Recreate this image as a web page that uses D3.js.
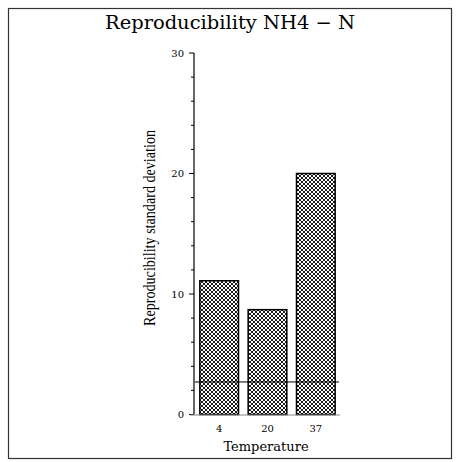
<!DOCTYPE html>
<html><head><meta charset="utf-8">
<script src="https://cdn.jsdelivr.net/npm/d3@7"></script>
<style>body{margin:0;background:#fff}</style>
</head><body>
<script>
const categories = ["4", "20", "37"];
const values = [11.1, 8.7, 20.0];
const refLine = 2.7;
const yTicks = [0, 10, 20, 30];
const yMinorTicks = [2,4,6,8,12,14,16,18,22,24,26,28];
const title = "Reproducibility  NH4 \u2212 N";
const xTitle = "Temperature";
const yTitle = "Reproducibility  standard  deviation";

const W = 456, H = 462;
const svg = d3.select("body").append("svg").attr("width", W).attr("height", H);
const defs = svg.append("defs");
const pat = defs.append("pattern").attr("id","hatch").attr("patternUnits","userSpaceOnUse")
  .attr("width",4).attr("height",4);
pat.append("rect").attr("width",4).attr("height",4).attr("fill","#fff");
pat.append("path").attr("d","M0,0 L4,4 M4,0 L0,4 M-1,3 L1,5 M3,-1 L5,1 M-1,1 L1,-1 M3,5 L5,3")
  .attr("stroke","#000").attr("stroke-width",0.9).attr("shape-rendering","auto");

// frame
svg.append("rect").attr("x",8.5).attr("y",8.5).attr("width",443).attr("height",450)
  .attr("fill","none").attr("stroke","#333").attr("stroke-width",1.2);

const x = d3.scaleBand().domain(categories).range([195, 340]).paddingInner(0.2).paddingOuter(0.1);
const y = d3.scaleLinear().domain([0, 30]).range([414.5, 53]);

const serif = "'DejaVu Serif', 'Liberation Serif', serif";

svg.append("text").attr("x", 230).attr("y", 29).attr("text-anchor","middle")
  .attr("font-family", serif).attr("font-size", 19)
  .attr("textLength",250).attr("lengthAdjust","spacingAndGlyphs").text(title);

// bars
svg.selectAll("rect.bar").data(values).join("rect").attr("class","bar")
  .attr("x",(d,i)=>x(categories[i])).attr("y",d=>y(d))
  .attr("width",x.bandwidth()).attr("height",d=>y(0)-y(d))
  .attr("fill","url(#hatch)").attr("stroke","#000").attr("stroke-width",1.5);

// reference line
svg.append("line").attr("x1",195).attr("x2",339).attr("y1",y(refLine)).attr("y2",y(refLine))
  .attr("stroke","#000").attr("stroke-width",1);

// y axis
const yAxis = svg.append("g").attr("transform","translate(194,0)");
yAxis.append("line").attr("x1",0).attr("x2",0).attr("y1",y(30)).attr("y2",y(0)).attr("stroke","#000").attr("stroke-width",1.2);
yAxis.selectAll("line.maj").data(yTicks).join("line").attr("class","maj")
  .attr("x1",-5).attr("x2",0).attr("y1",d=>y(d)).attr("y2",d=>y(d)).attr("stroke","#000");
yAxis.selectAll("line.min").data(yMinorTicks).join("line").attr("class","min")
  .attr("x1",-3).attr("x2",0).attr("y1",d=>y(d)).attr("y2",d=>y(d)).attr("stroke","#000");
yAxis.selectAll("text").data(yTicks).join("text")
  .attr("x",-10).attr("y",d=>y(d)+3.5).attr("text-anchor","end")
  .attr("font-family",serif).attr("font-size",10).text(d=>d);

// x axis
svg.append("line").attr("x1",190).attr("x2",340).attr("y1",y(0)+0.5).attr("y2",y(0)+0.5)
  .attr("stroke","#888").attr("stroke-width",1.2);
svg.selectAll("text.xt").data(categories).join("text").attr("class","xt")
  .attr("x",d=>x(d)+x.bandwidth()/2).attr("y",432).attr("text-anchor","middle")
  .attr("font-family",serif).attr("font-size",10).text(d=>d);

svg.append("text").attr("x",266).attr("y",451).attr("text-anchor","middle")
  .attr("font-family",serif).attr("font-size",13).text(xTitle);

svg.append("text").attr("transform","translate(155,228) rotate(-90)").attr("text-anchor","middle")
  .attr("font-family","'Liberation Serif', serif").attr("font-size",16)
  .attr("textLength",196).attr("lengthAdjust","spacingAndGlyphs").text(yTitle);
</script>
</body></html>
